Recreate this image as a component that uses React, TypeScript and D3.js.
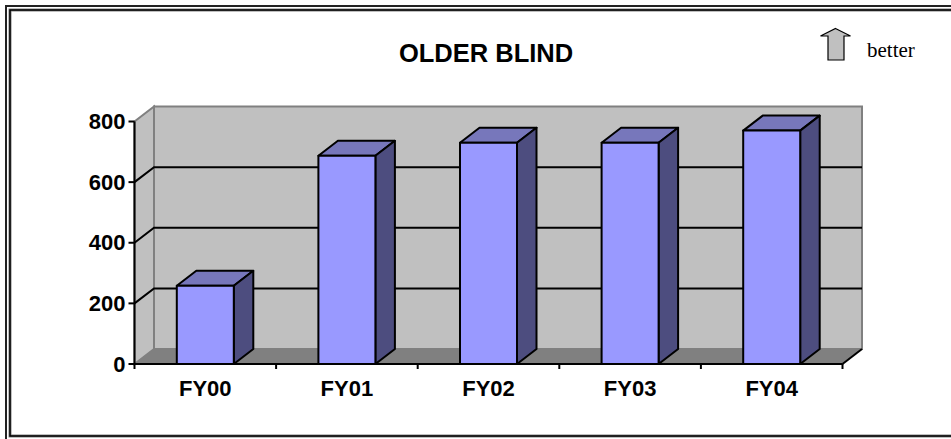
import React from "react";
import * as d3 from "d3";

const categories = ["FY00", "FY01", "FY02", "FY03", "FY04"];
const values = [258, 687, 730, 730, 770];
const yTicks = [0, 200, 400, 600, 800];
const titleText = "OLDER BLIND";
const noteText = "better";

const W = 951, H = 439;
const axisL = 134.5, axisR = 842.5, y0 = 364, y800 = 121.5;
const dx = 19.5, dy = -15;
const barW = 57;

export default function App() {
  const y = d3.scaleLinear().domain([0, 800]).range([y0, y800]);
  const x = d3.scaleBand<string>().domain(categories).range([axisL, axisR]);
  const iso = (px: number, py: number) => `${px},${py}`;
  return (
    <svg width={W} height={H} viewBox={`0 0 ${W} ${H}`} style={{ position: "fixed", left: 0, top: 0, background: "#fff" }}>
      {/* frame: open on the right, where the picture is cropped */}
      <path d={`M${W},6 H6 V${H}`} fill="none" stroke="#222" strokeWidth={2} />
      <path d={`M${W},10 H10 V436 H${W}`} fill="none" stroke="#808080" strokeWidth={3} />
      <path d={`M${W},10 H10 V436 H${W}`} fill="none" stroke="#000" strokeWidth={1.5} />

      <text x={486} y={62} textAnchor="middle" fontFamily="Liberation Sans" fontWeight="bold" fontSize={25.5}>{titleText}</text>

      {/* arrow */}
      <polygon points="835.5,28.5 850.5,36 844,36 844,60 828,60 828,36 820.5,36" fill="#c0c0c0" stroke="#000" strokeWidth={1.2} />
      <text x={867} y={56.5} fontFamily="Liberation Serif" fontSize={21}>{noteText}</text>

      {/* walls */}
      <polygon points={[iso(axisL, y(0)), iso(axisL + dx, y(0) + dy), iso(axisL + dx, y(800) + dy), iso(axisL, y(800))].join(" ")} fill="#c0c0c0" stroke="#808080" strokeWidth={2} />
      <rect x={axisL + dx} y={y(800) + dy} width={axisR - axisL} height={y(0) - y(800)} fill="#c0c0c0" stroke="#808080" strokeWidth={2} />
      <polygon points={[iso(axisL, y(0)), iso(axisR, y(0)), iso(axisR + dx, y(0) + dy), iso(axisL + dx, y(0) + dy)].join(" ")} fill="#808080" />

      {/* gridlines */}
      {yTicks.filter(t => t > 0 && t < 800).map(t => (
        <path key={t} d={`M${axisL},${y(t)}L${axisL + dx},${y(t) + dy}H${axisR + dx}`} fill="none" stroke="#000" strokeWidth={2} />
      ))}
      <path d={`M${axisR},${y(0)}L${axisR + dx},${y(0) + dy}`} stroke="#000" strokeWidth={2} />

      {/* bars */}
      {categories.map((c, i) => {
        const cx = x(c)! + x.bandwidth() / 2;
        const l = cx - barW / 2, r = cx + barW / 2, t = y(values[i]), b = y(0);
        return (
          <g key={c} stroke="#000" strokeWidth={2} strokeLinejoin="round">
            <polygon points={[iso(l, t), iso(r, t), iso(r + dx, t + dy), iso(l + dx, t + dy)].join(" ")} fill="#7777bb" />
            <polygon points={[iso(r, t), iso(r + dx, t + dy), iso(r + dx, b + dy), iso(r, b)].join(" ")} fill="#4d4d7f" />
            <rect x={l} y={t} width={barW} height={b - t} fill="#9999ff" />
          </g>
        );
      })}

      {/* axes */}
      <path d={`M${axisL},${y(800)}V${y(0)}H${axisR}`} fill="none" stroke="#000" strokeWidth={2} />
      {yTicks.map(t => (
        <g key={t}>
          <line x1={axisL - 6} x2={axisL} y1={y(t)} y2={y(t)} stroke="#000" strokeWidth={2} />
          <text x={axisL - 9} y={y(t) + 7.5} textAnchor="end" fontFamily="Liberation Sans" fontWeight="bold" fontSize={22}>{t}</text>
        </g>
      ))}
      {categories.map(c => (
        <line key={c} x1={x(c)!} x2={x(c)!} y1={y(0)} y2={y(0) + 5} stroke="#000" strokeWidth={2} />
      ))}
      <line x1={axisR} x2={axisR} y1={y(0)} y2={y(0) + 5} stroke="#000" strokeWidth={2} />
      {categories.map(c => (
        <text key={c} x={x(c)! + x.bandwidth() / 2} y={395.5} textAnchor="middle" fontFamily="Liberation Sans" fontWeight="bold" fontSize={22}>{c}</text>
      ))}
    </svg>
  );
}
